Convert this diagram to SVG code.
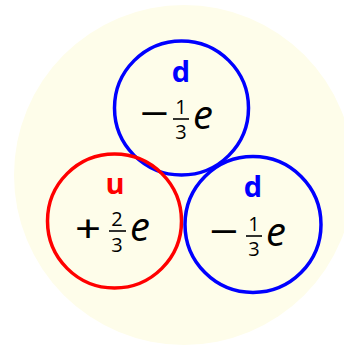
<svg xmlns="http://www.w3.org/2000/svg" width="344" height="349" viewBox="0 0 344 349">
<style>
.q{fill:none;stroke-width:3.5}
.lbl{font-family:"Open Sans","Liberation Sans",sans-serif;font-weight:bold;font-size:29px;text-anchor:middle}
.op{font-family:"Noto Sans","DejaVu Sans",sans-serif;font-size:38px;text-anchor:middle;fill:#000}
.fr{font-family:"Open Sans","Liberation Sans",sans-serif;font-size:20px;text-anchor:middle;fill:#000}
.e{font-family:"Open Sans","Liberation Sans",sans-serif;font-style:italic;font-size:40px;fill:#000}
.bar{stroke:#000;stroke-width:1.6}
</style>
<rect width="344" height="349" fill="#fff"/>
<circle cx="184" cy="175" r="170" fill="#fefdea"/>
<g id="d-top">
<circle class="q" cx="181.5" cy="108" r="67" stroke="#0000ff"/>
<text class="lbl" x="181" y="82" fill="#0000ff">d</text>
<text class="op" transform="translate(154.5,127) scale(1.35,1)">−</text>
<text class="fr" x="181" y="113.5">1</text>
<line class="bar" x1="173" y1="119" x2="189" y2="119"/>
<text class="fr" x="181" y="139">3</text>
<text class="e" x="193" y="129">e</text>
</g>
<g id="u">
<circle class="q" cx="114.5" cy="221" r="67" stroke="#ff0000"/>
<text class="lbl" x="115" y="194" fill="#ff0000">u</text>
<text class="op" transform="translate(88,242) scale(1.2,1)">+</text>
<text class="fr" x="117" y="225.5">2</text>
<line class="bar" x1="109" y1="231" x2="126" y2="231"/>
<text class="fr" x="117" y="252">3</text>
<text class="e" x="130" y="241">e</text>
</g>
<g id="d-right">
<circle class="q" cx="253" cy="224.5" r="68" stroke="#0000ff"/>
<text class="lbl" x="253" y="197" fill="#0000ff">d</text>
<text class="op" transform="translate(224,245) scale(1.35,1)">−</text>
<text class="fr" x="254" y="230.5">1</text>
<line class="bar" x1="246" y1="236" x2="262" y2="236"/>
<text class="fr" x="254" y="256">3</text>
<text class="e" x="266" y="246">e</text>
</g>
<g id="connectors"></g>
</svg>
